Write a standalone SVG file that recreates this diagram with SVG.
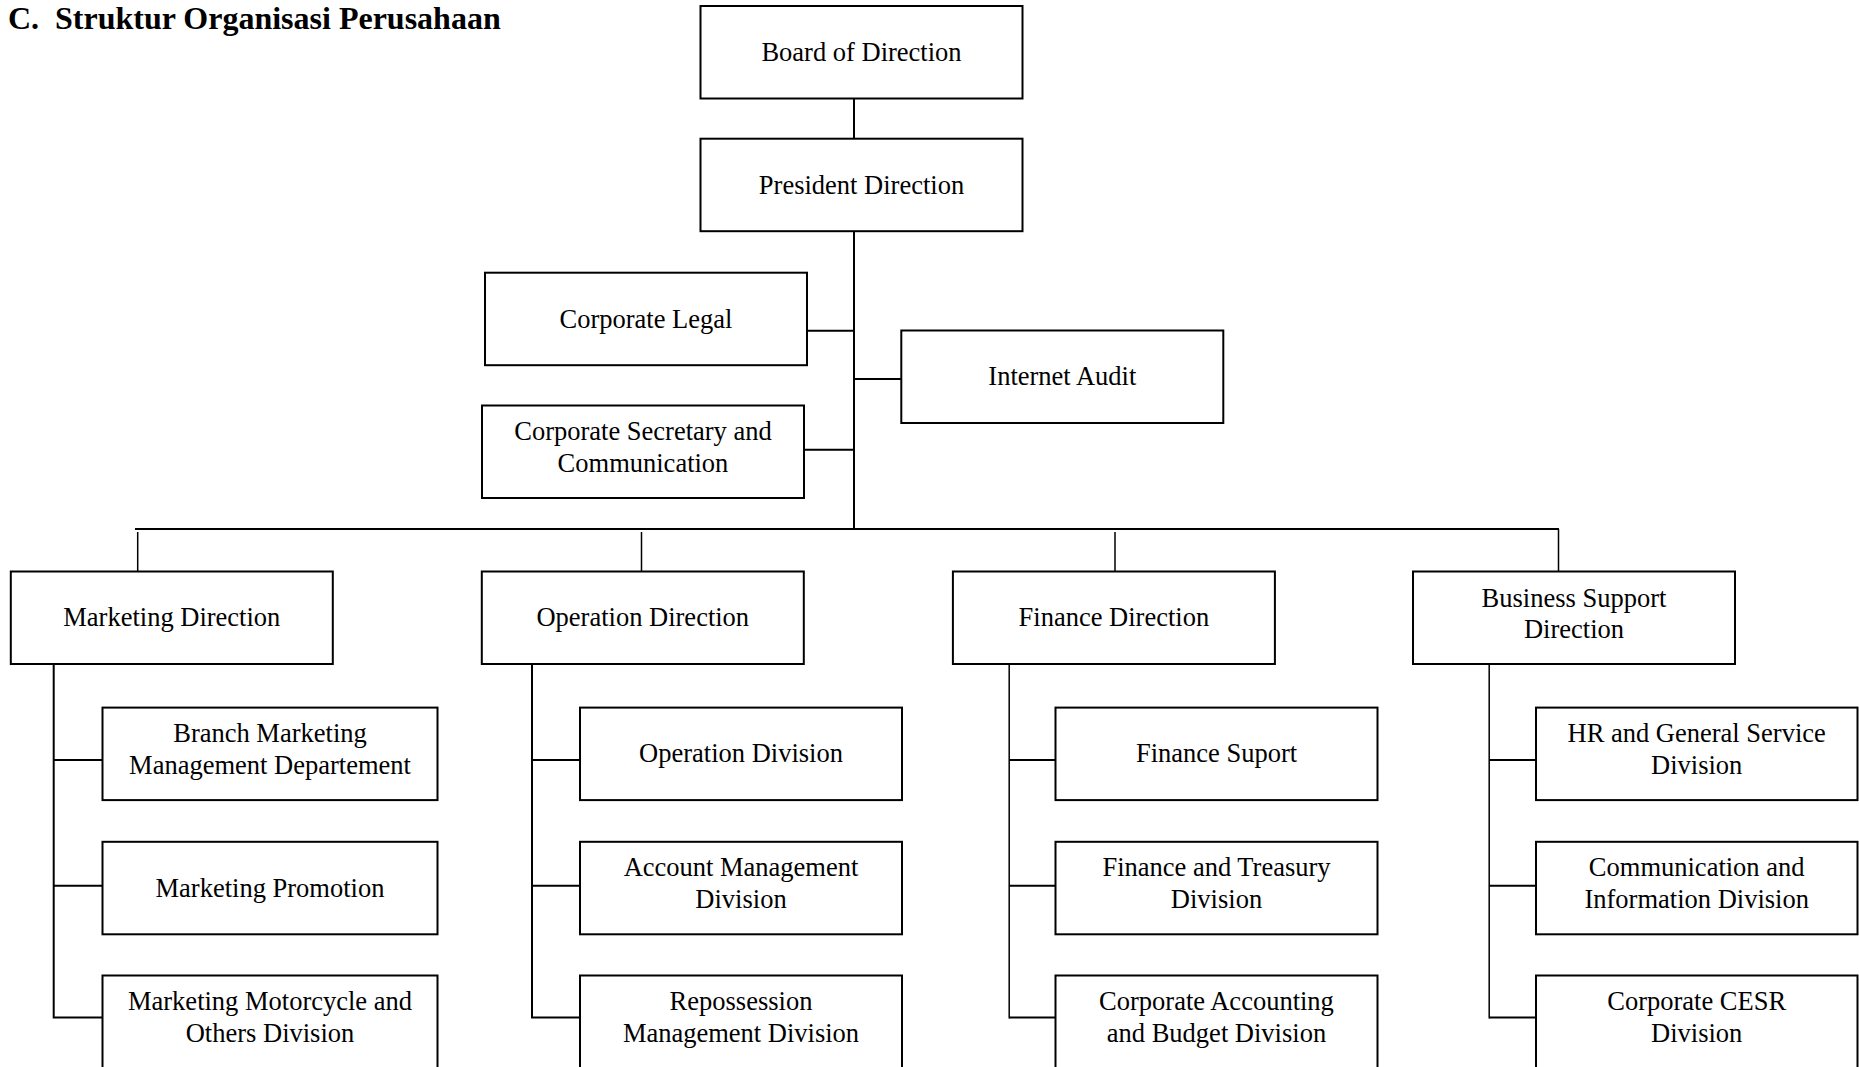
<svg xmlns="http://www.w3.org/2000/svg" width="1859" height="1067" viewBox="0 0 1859 1067">
<style>
.box{fill:#fff;stroke:#000;stroke-width:2}
.t{font-family:"Liberation Serif","Times New Roman",serif;font-size:26.5px;fill:#000;text-anchor:middle}
.title{font-family:"Liberation Serif","Times New Roman",serif;font-size:32px;font-weight:bold;fill:#000}
.c{fill:none;stroke:#000;stroke-width:2}
.d{fill:none;stroke:#000;stroke-width:1.5}
</style>
<rect width="1859" height="1067" fill="#fff"/>
<text class="title" x="8" y="29">C.</text>
<text class="title" x="55" y="29">Struktur Organisasi Perusahaan</text>

<g id="connectors">
<path class="c" d="M854,98.5V138.7"/>
<path class="c" d="M854,231.2V529"/>
<path class="c" d="M807,330.7H854"/>
<path class="c" d="M854,379H901.3"/>
<path class="c" d="M804,449.7H854"/>
<path class="c" d="M135,529H1559"/>
<path class="d" d="M137.7,532V571.5M641.5,532V571.5M1115,532V571.5M1558.5,529V571.5"/>
<path class="c" d="M53.7,664V1018.5M53.7,760H102.5M53.7,885.7H102.5M53.7,1017.5H102.5"/>
<path class="c" d="M532,664V1018.5M532,760H580M532,885.7H580M532,1017.5H580"/>
<path class="d" d="M1009.2,664V1018.5"/><path class="c" d="M1009.2,760H1055.5M1009.2,885.7H1055.5M1009.2,1017.5H1055.5"/>
<path class="d" d="M1489.2,664V1018.5"/><path class="c" d="M1489.2,760H1536M1489.2,885.7H1536M1489.2,1017.5H1536"/>
</g>

<g id="board"><rect class="box" x="700.5" y="6" width="322" height="92.5"/><text class="t" x="861.5" y="61">Board of Direction</text></g>
<g id="president"><rect class="box" x="700.5" y="138.7" width="322" height="92.5"/><text class="t" x="861.5" y="193.5">President Direction</text></g>
<g id="legal"><rect class="box" x="485" y="272.7" width="322" height="92.5"/><text class="t" x="646" y="327.5">Corporate Legal</text></g>
<g id="audit"><rect class="box" x="901.3" y="330.5" width="322" height="92.5"/><text class="t" x="1062.3" y="385.3">Internet Audit</text></g>
<g id="secretary"><rect class="box" x="482" y="405.5" width="322" height="92.5"/><text class="t" x="643" y="440"><tspan x="643">Corporate Secretary and</tspan><tspan x="643" y="471.7">Communication</tspan></text></g>

<g id="marketing"><rect class="box" x="10.8" y="571.5" width="322" height="92.5"/><text class="t" x="171.8" y="626.3">Marketing Direction</text></g>
<g id="operation"><rect class="box" x="481.8" y="571.5" width="322" height="92.5"/><text class="t" x="642.8" y="626.3">Operation Direction</text></g>
<g id="finance"><rect class="box" x="952.9" y="571.5" width="322" height="92.5"/><text class="t" x="1113.9" y="626.3">Finance Direction</text></g>
<g id="business"><rect class="box" x="1413" y="571.5" width="322" height="92.5"/><text class="t" x="1574" y="606.7"><tspan x="1574">Business Support</tspan><tspan x="1574" y="637.5">Direction</tspan></text></g>

<g id="branch"><rect class="box" x="102.5" y="707.6" width="335" height="92.5"/><text class="t" x="270" y="742.3"><tspan x="270">Branch Marketing</tspan><tspan x="270" y="773.8">Management Departement</tspan></text></g>
<g id="promotion"><rect class="box" x="102.5" y="841.8" width="335" height="92.5"/><text class="t" x="270" y="896.6">Marketing Promotion</text></g>
<g id="motorcycle"><rect class="box" x="102.5" y="975.5" width="335" height="92.5"/><text class="t" x="270" y="1010"><tspan x="270">Marketing Motorcycle and</tspan><tspan x="270" y="1041.5">Others Division</tspan></text></g>

<g id="opdiv"><rect class="box" x="580" y="707.6" width="322" height="92.5"/><text class="t" x="741" y="762.4">Operation Division</text></g>
<g id="account"><rect class="box" x="580" y="841.8" width="322" height="92.5"/><text class="t" x="741" y="876.4"><tspan x="741">Account Management</tspan><tspan x="741" y="907.9">Division</tspan></text></g>
<g id="repossession"><rect class="box" x="580" y="975.5" width="322" height="92.5"/><text class="t" x="741" y="1010"><tspan x="741">Repossession</tspan><tspan x="741" y="1041.5">Management Division</tspan></text></g>

<g id="finsupport"><rect class="box" x="1055.5" y="707.6" width="322" height="92.5"/><text class="t" x="1216.5" y="762.4">Finance Suport</text></g>
<g id="treasury"><rect class="box" x="1055.5" y="841.8" width="322" height="92.5"/><text class="t" x="1216.5" y="876.4"><tspan x="1216.5">Finance and Treasury</tspan><tspan x="1216.5" y="907.9">Division</tspan></text></g>
<g id="accounting"><rect class="box" x="1055.5" y="975.5" width="322" height="92.5"/><text class="t" x="1216.5" y="1010"><tspan x="1216.5">Corporate Accounting</tspan><tspan x="1216.5" y="1041.5">and Budget Division</tspan></text></g>

<g id="hr"><rect class="box" x="1536" y="707.6" width="321.5" height="92.5"/><text class="t" x="1696.7" y="742.3"><tspan x="1696.7">HR and General Service</tspan><tspan x="1696.7" y="773.8">Division</tspan></text></g>
<g id="comm"><rect class="box" x="1536" y="841.8" width="321.5" height="92.5"/><text class="t" x="1696.7" y="876.4"><tspan x="1696.7">Communication and</tspan><tspan x="1696.7" y="907.9">Information Division</tspan></text></g>
<g id="cesr"><rect class="box" x="1536" y="975.5" width="321.5" height="92.5"/><text class="t" x="1696.7" y="1010"><tspan x="1696.7">Corporate CESR</tspan><tspan x="1696.7" y="1041.5">Division</tspan></text></g>
</svg>
